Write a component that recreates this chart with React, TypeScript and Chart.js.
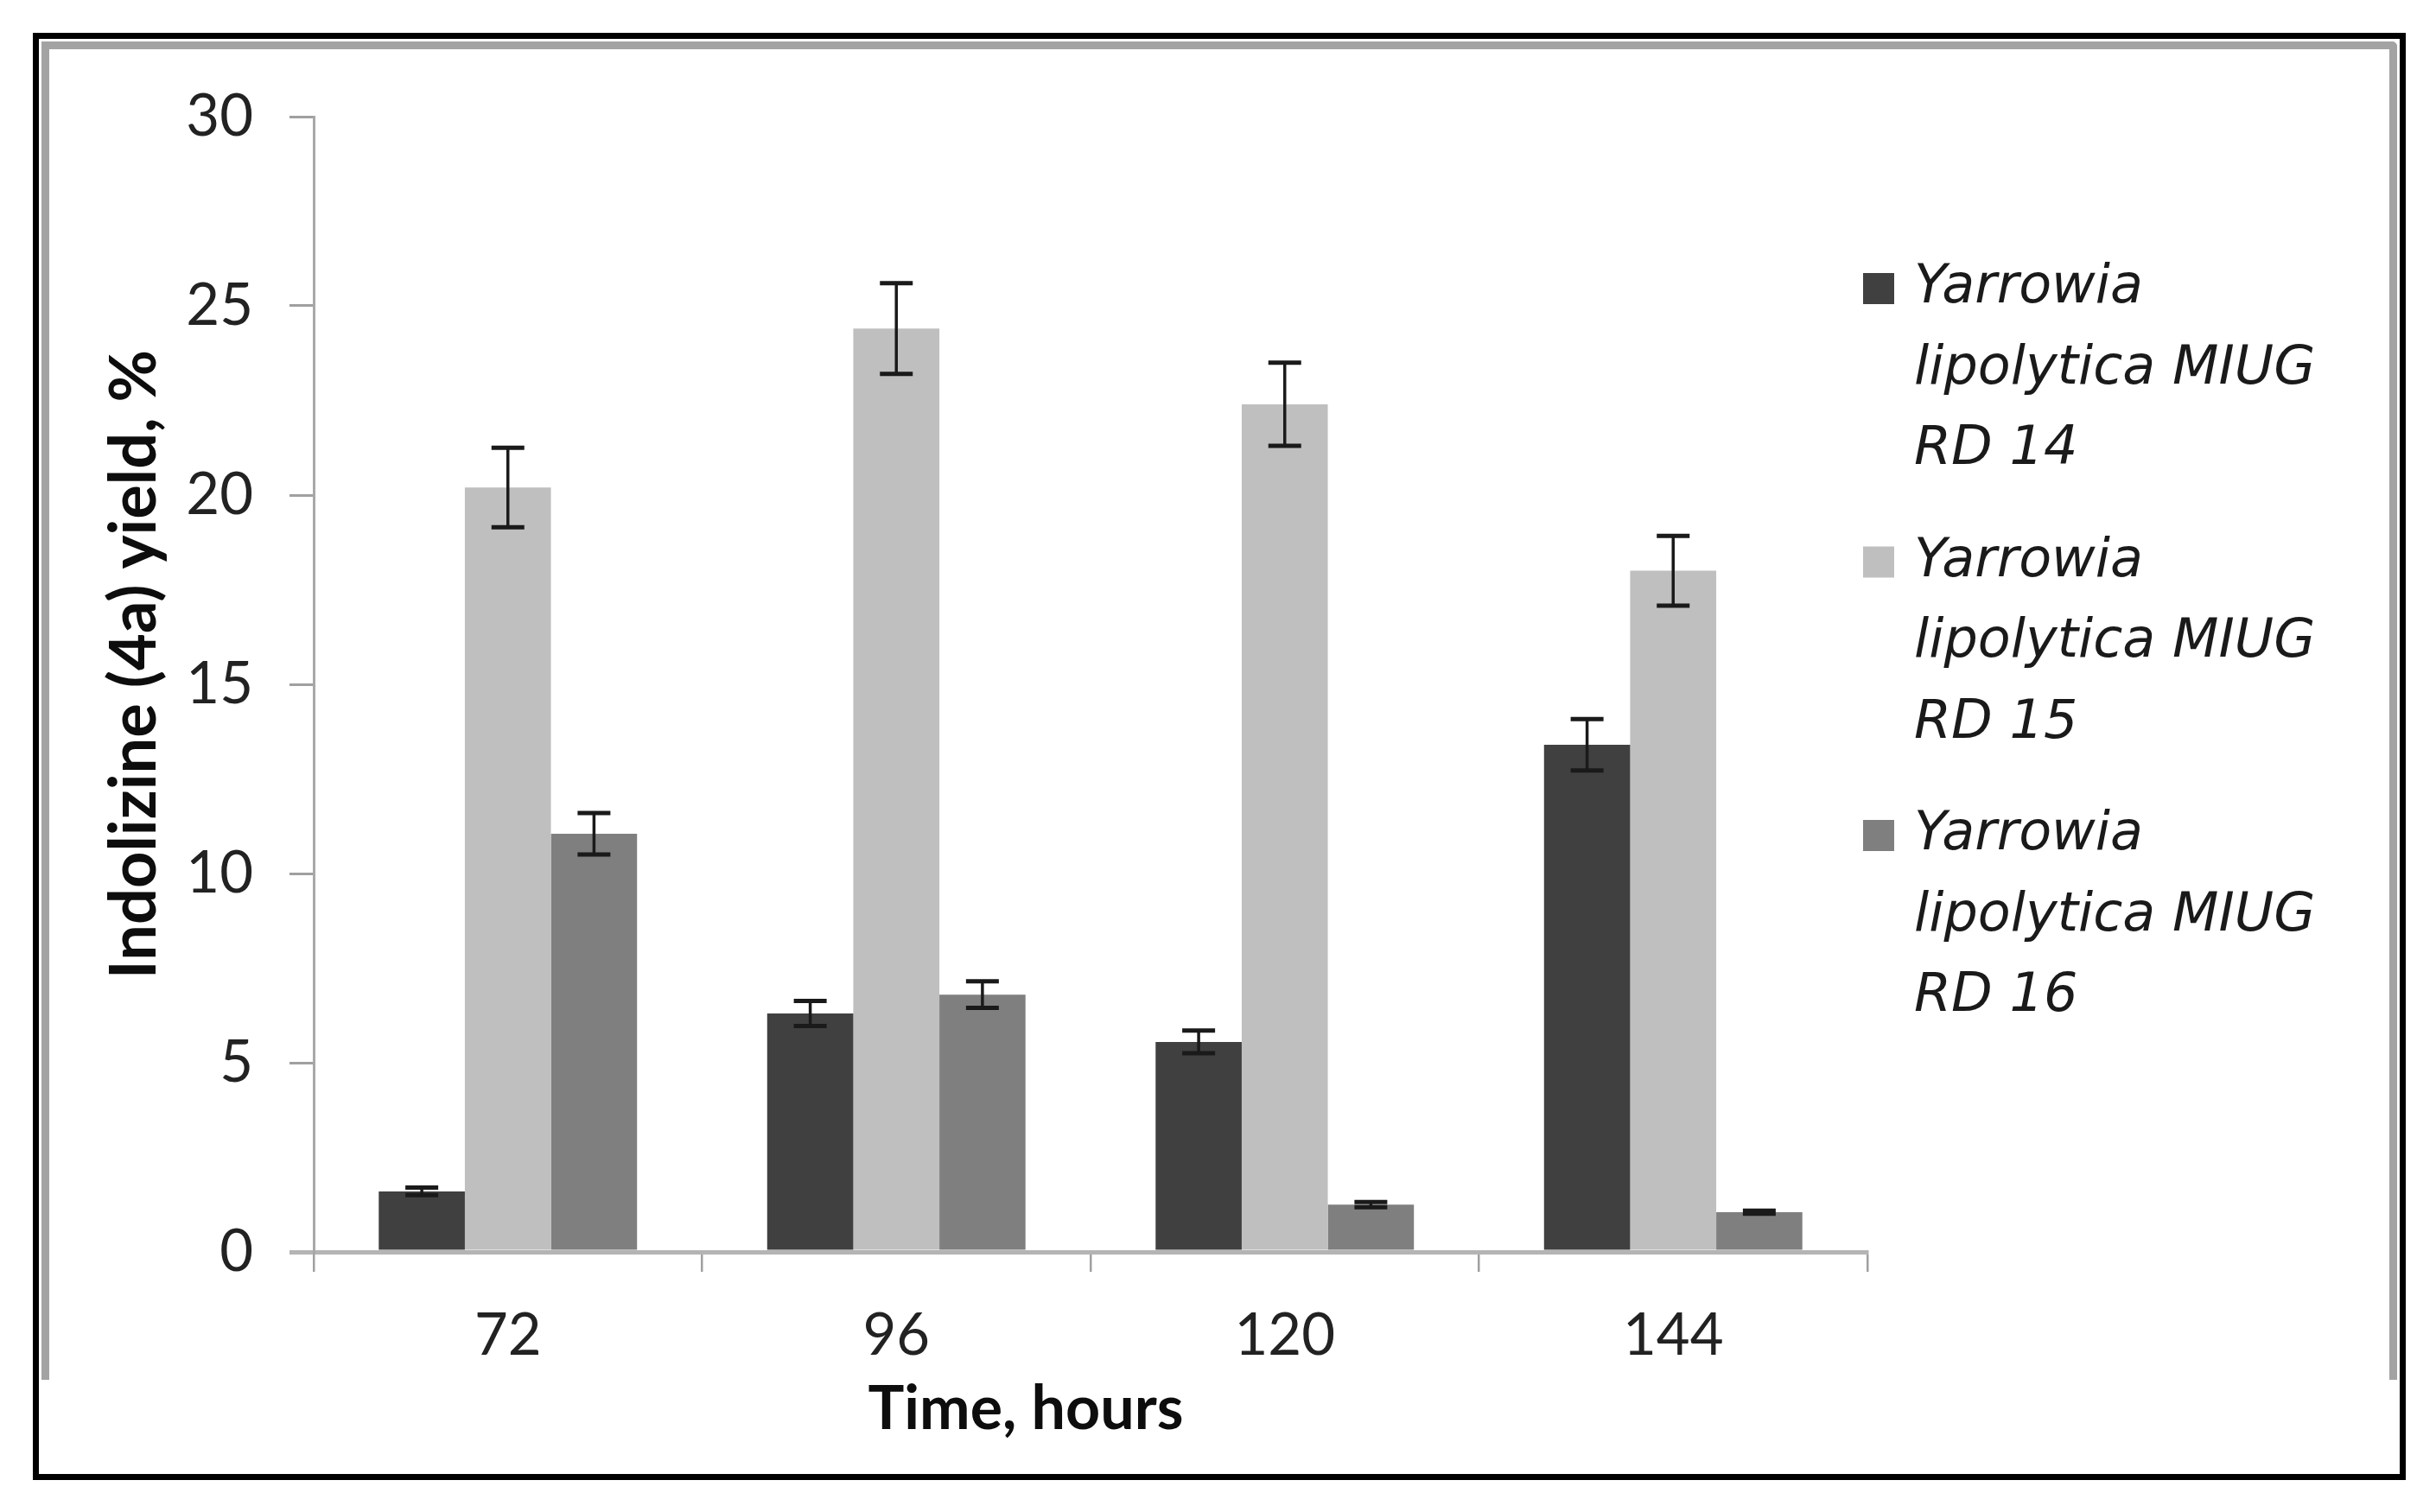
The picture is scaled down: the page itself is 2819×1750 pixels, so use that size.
import React, { useEffect, useRef } from "react";
import { Chart, registerables } from "chart.js";

Chart.register(...registerables);

// ---- data ----
const categories = ["72", "96", "120", "144"];
const seriesNames = [
  "Yarrowia\nlipolytica MIUG\nRD 14",
  "Yarrowia\nlipolytica MIUG\nRD 15",
  "Yarrowia\nlipolytica MIUG\nRD 16",
];
const rd14Values = [1.6, 6.3, 5.55, 13.4];
const rd15Values = [20.2, 24.4, 22.4, 18.0];
const rd16Values = [11.05, 6.8, 1.25, 1.05];
const rd14Errors = [0.1, 0.33, 0.3, 0.68];
const rd15Errors = [1.05, 1.2, 1.1, 0.92];
const rd16Errors = [0.55, 0.35, 0.07, 0.04];
const yMin = 0;
const yMax = 30;
const yStep = 5;
const xTitle = "Time, hours";
const yTitle = "Indolizine (4a) yield, %";
const seriesColors = ["#404040", "#bfbfbf", "#7f7f7f"];

const W = 2819;
const H = 1750;

const errorBarPlugin = {
  id: "errorBars",
  afterDatasetsDraw(chart: any) {
    const { ctx } = chart;
    const y = chart.scales.y;
    chart.data.datasets.forEach((ds: any, i: number) => {
      const meta = chart.getDatasetMeta(i);
      meta.data.forEach((bar: any, j: number) => {
        const v = ds.data[j];
        const e = ds.errors[j];
        const yTop = y.getPixelForValue(v + e);
        const yBot = y.getPixelForValue(v - e);
        ctx.save();
        ctx.strokeStyle = "#1a1a1a";
        ctx.lineWidth = 3.5;
        ctx.beginPath();
        ctx.moveTo(bar.x, yTop);
        ctx.lineTo(bar.x, yBot);
        ctx.stroke();
        ctx.lineWidth = 5;
        ctx.beginPath();
        ctx.moveTo(bar.x - 19, yTop);
        ctx.lineTo(bar.x + 19, yTop);
        ctx.moveTo(bar.x - 19, yBot);
        ctx.lineTo(bar.x + 19, yBot);
        ctx.stroke();
        ctx.restore();
      });
    });
  },
};

const legendPlugin = {
  id: "wrappedLegend",
  afterDraw(chart: any) {
    const { ctx } = chart;
    ctx.save();
    ctx.font = 'italic 62px "DejaVu Sans"';
    ctx.textBaseline = "middle";
    ctx.textAlign = "left";
    chart.data.datasets.forEach((ds: any, i: number) => {
      const y0 = 334 + i * 316.5;
      ctx.fillStyle = ds.backgroundColor;
      ctx.fillRect(2156, y0 - 18, 36, 36);
      ctx.fillStyle = "#1a1a1a";
      const lines = String(ds.label).split("\n");
      lines.forEach((ln: string, j: number) => ctx.fillText(ln, 2215, y0 + j * 93.5));
    });
    ctx.restore();
  },
};

const axisTitlePlugin = {
  id: "axisTitles",
  afterDraw(chart: any) {
    const { ctx, chartArea } = chart;
    ctx.save();
    ctx.fillStyle = "#0d0d0d";
    ctx.textAlign = "center";
    ctx.textBaseline = "middle";
    ctx.font = 'bold 70px "Lato"';
    ctx.fillText(xTitle, chartArea.left + 824, chartArea.bottom + 182);
    ctx.font = 'bold 74px "Lato"';
    ctx.translate(chartArea.left - 207, chartArea.top + 634);
    ctx.rotate(-Math.PI / 2);
    ctx.fillText(yTitle, 0, 0);
    ctx.restore();
  },
};

export default function App() {
  const canvasRef = useRef<HTMLCanvasElement | null>(null);

  useEffect(() => {
    if (!canvasRef.current) return;
    const valueSets = [rd14Values, rd15Values, rd16Values];
    const errorSets = [rd14Errors, rd15Errors, rd16Errors];
    const chart = new Chart(canvasRef.current, {
      type: "bar",
      data: {
        labels: categories,
        datasets: seriesNames.map((name, i) => ({
          label: name,
          data: valueSets[i],
          errors: errorSets[i],
          backgroundColor: seriesColors[i],
          borderWidth: 0,
          barPercentage: 1,
          categoryPercentage: 0.665,
        })) as any,
      },
      options: {
        responsive: false,
        animation: false,
        devicePixelRatio: 1,
        layout: { padding: { left: 0, top: 135, right: W - 2161, bottom: 0 } },
        plugins: {
          legend: { display: false },
          tooltip: { enabled: false },
          title: { display: false },
        },
        scales: {
          x: {
            type: "category",
            offset: true,
            grid: {
              offset: true,
              drawOnChartArea: false,
              drawTicks: true,
              tickLength: 23,
              color: "#a0a0a0",
              lineWidth: 2.5,
            },
            border: { display: true, color: "#b4b4b4", width: 5 },
            ticks: {
              font: { family: "Lato", size: 67 },
              color: "#222222",
              padding: 34,
            },
            afterFit: (s: any) => {
              s.height = H - 1449;
            },
          },
          y: {
            min: yMin,
            max: yMax,
            ticks: {
              stepSize: yStep,
              font: { family: "Lato", size: 67 },
              color: "#222222",
              padding: 42,
            },
            grid: {
              drawOnChartArea: false,
              drawTicks: true,
              tickLength: 28,
              color: (c: any) => (c.tick && c.tick.value === 0 ? "#b4b4b4" : "#a0a0a0"),
              lineWidth: (c: any) => (c.tick && c.tick.value === 0 ? 5 : 3),
            },
            border: { display: true, color: "#a8a8a8", width: 3 },
            afterFit: (s: any) => {
              s.width = 363;
            },
          },
        },
      },
      plugins: [errorBarPlugin, legendPlugin, axisTitlePlugin],
    } as any);
    return () => chart.destroy();
  }, []);

  return (
    <div style={{ position: "absolute", left: 0, top: 0, width: W, height: H, background: "#fff" }}>
      <canvas
        ref={canvasRef}
        width={W}
        height={H}
        style={{ position: "absolute", left: 0, top: 0, width: W, height: H }}
      />
      <div
        style={{
          position: "absolute",
          left: 38,
          top: 38,
          width: 2746,
          height: 1675,
          boxSizing: "border-box",
          border: "7px solid #000",
          pointerEvents: "none",
        }}
      />
      <div
        style={{
          position: "absolute",
          left: 48,
          top: 48,
          width: 2726,
          height: 1549,
          boxSizing: "border-box",
          borderTop: "9px solid #a3a3a3",
          borderLeft: "9px solid #a3a3a3",
          borderRight: "9px solid #a3a3a3",
          borderTopRightRadius: 6,
          pointerEvents: "none",
        }}
      />
    </div>
  );
}
